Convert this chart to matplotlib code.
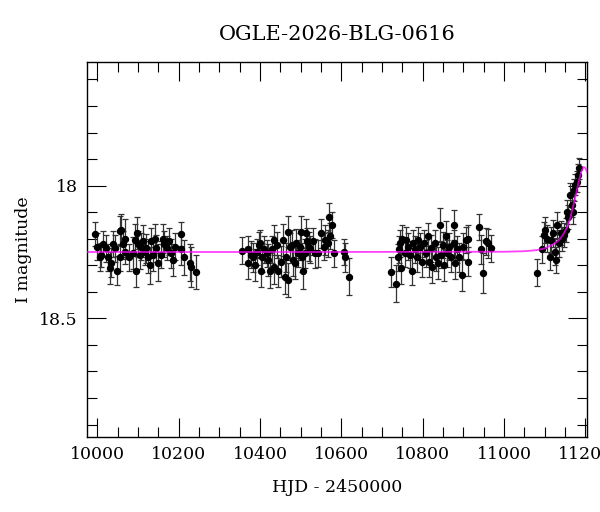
import numpy as np
import matplotlib
matplotlib.use('Agg')
import matplotlib.pyplot as plt
from matplotlib.ticker import MultipleLocator, FuncFormatter

# Light curve data (HJD - 2450000, I mag, error)
s1_hjd = [9995, 9999, 10005, 10009, 10014, 10022, 10026, 10030, 10034, 10038,
          10042, 10049, 10055, 10055, 10059, 10063, 10067, 10068, 10077, 10087,
          10092, 10095, 10098, 10100, 10104, 10108, 10112, 10116, 10120, 10124,
          10128, 10132, 10136, 10141, 10145, 10149, 10155, 10161, 10164, 10172,
          10175, 10180, 10186, 10191, 10205, 10206, 10214, 10227, 10229, 10243]
s1_mag = [18.183, 18.23, 18.27, 18.26, 18.22, 18.236, 18.27, 18.31, 18.29, 18.22,
          18.236, 18.32, 18.17, 18.27, 18.167, 18.22, 18.25, 18.20, 18.27, 18.255,
          18.205, 18.32, 18.18, 18.22, 18.26, 18.23, 18.21, 18.25, 18.236, 18.27,
          18.30, 18.21, 18.26, 18.20, 18.236, 18.29, 18.26, 18.20, 18.22, 18.236,
          18.21, 18.255, 18.28, 18.23, 18.183, 18.24, 18.27, 18.29, 18.305, 18.325]
s1_err = [0.045, 0.05, 0.05, 0.045, 0.05, 0.05, 0.05, 0.06, 0.055, 0.05,
          0.05, 0.055, 0.055, 0.05, 0.06, 0.05, 0.045, 0.075, 0.05, 0.06,
          0.06, 0.06, 0.06, 0.05, 0.055, 0.05, 0.06, 0.05, 0.055, 0.06,
          0.07, 0.05, 0.06, 0.055, 0.05, 0.07, 0.05, 0.055, 0.05, 0.045,
          0.05, 0.055, 0.06, 0.05, 0.045, 0.06, 0.065, 0.07, 0.075, 0.065]

s2_hjd = [10356, 10369, 10369, 10378, 10383, 10387, 10392, 10396, 10400, 10402,
          10405, 10410, 10416, 10420, 10424, 10430, 10435, 10435, 10441, 10445,
          10451, 10457, 10461, 10463, 10468, 10469, 10474, 10478, 10482, 10486,
          10488, 10492, 10498, 10501, 10502, 10506, 10510, 10512, 10515, 10519,
          10523, 10531, 10535, 10543, 10550, 10556, 10560, 10568, 10572, 10570,
          10576, 10582, 10605, 10609, 10619]
s2_mag = [18.245, 18.24, 18.29, 18.26, 18.27, 18.30, 18.25, 18.224, 18.217, 18.32,
          18.27, 18.24, 18.255, 18.28, 18.32, 18.24, 18.205, 18.305, 18.224, 18.32,
          18.286, 18.205, 18.343, 18.27, 18.173, 18.356, 18.23, 18.224, 18.28, 18.29,
          18.217, 18.255, 18.23, 18.173, 18.27, 18.32, 18.255, 18.18, 18.21, 18.23,
          18.24, 18.21, 18.255, 18.255, 18.18, 18.23, 18.205, 18.217, 18.19, 18.12,
          18.148, 18.255, 18.25, 18.27, 18.343]
s2_err = [0.05, 0.05, 0.06, 0.05, 0.055, 0.06, 0.05, 0.05, 0.05, 0.06,
          0.055, 0.05, 0.05, 0.06, 0.065, 0.05, 0.055, 0.065, 0.05, 0.06,
          0.06, 0.06, 0.065, 0.055, 0.06, 0.065, 0.05, 0.055, 0.06, 0.06,
          0.055, 0.05, 0.05, 0.06, 0.055, 0.07, 0.055, 0.055, 0.05, 0.055,
          0.05, 0.05, 0.055, 0.05, 0.055, 0.05, 0.055, 0.05, 0.05, 0.055,
          0.05, 0.05, 0.05, 0.055, 0.07]

s3_hjd = [10722, 10734, 10739, 10742, 10744, 10747, 10750, 10755, 10758, 10763,
          10769, 10773, 10777, 10781, 10785, 10789, 10793, 10797, 10804, 10807,
          10812, 10815, 10820, 10823, 10829, 10832, 10837, 10843, 10845, 10849,
          10853, 10857, 10859, 10865, 10870, 10876, 10876, 10880, 10884, 10888,
          10897, 10900, 10906, 10910, 10912, 10937, 10943, 10949, 10955, 10960,
          10968]
s3_mag = [18.325, 18.37, 18.27, 18.24, 18.217, 18.31, 18.20, 18.255, 18.205, 18.23,
          18.26, 18.32, 18.217, 18.24, 18.27, 18.205, 18.23, 18.286, 18.217, 18.255,
          18.19, 18.286, 18.236, 18.305, 18.217, 18.27, 18.29, 18.148, 18.26, 18.224,
          18.30, 18.19, 18.255, 18.23, 18.27, 18.148, 18.217, 18.29, 18.24, 18.27,
          18.337, 18.23, 18.205, 18.286, 18.20, 18.155, 18.24, 18.33, 18.21, 18.217,
          18.236]
s3_err = [0.055, 0.07, 0.05, 0.05, 0.05, 0.06, 0.05, 0.05, 0.05, 0.05,
          0.05, 0.055, 0.05, 0.05, 0.055, 0.05, 0.05, 0.06, 0.05, 0.05,
          0.05, 0.06, 0.05, 0.06, 0.05, 0.05, 0.06, 0.065, 0.05, 0.05,
          0.06, 0.055, 0.05, 0.05, 0.055, 0.055, 0.05, 0.06, 0.05, 0.055,
          0.06, 0.05, 0.05, 0.055, 0.05, 0.05, 0.055, 0.075, 0.05, 0.055,
          0.05]

s4_hjd = [11080, 11093, 11097, 11101, 11105, 11113, 11116, 11119, 11124, 11127,
          11130, 11134, 11140, 11143, 11148, 11152, 11154, 11158, 11162, 11166,
          11170, 11173, 11174, 11179, 11181, 11183]
s4_mag = [18.328, 18.24, 18.186, 18.167, 18.20, 18.267, 18.205, 18.18, 18.25, 18.28,
          18.148, 18.217, 18.18, 18.20, 18.186, 18.167, 18.098, 18.117, 18.035, 18.073,
          18.098, 18.016, 17.997, 17.985, 17.96, 17.934]
s4_err = [0.05, 0.05, 0.05, 0.05, 0.05, 0.05, 0.05, 0.05, 0.05, 0.05,
          0.05, 0.05, 0.045, 0.045, 0.045, 0.045, 0.045, 0.045, 0.045, 0.045,
          0.045, 0.04, 0.04, 0.04, 0.04, 0.04]

# Microlensing model
model_hjd = [9970, 10500, 11000, 11050, 11080, 11100, 11120, 11135, 11145, 11155,
             11163, 11170, 11177, 11184, 11190, 11195, 11199, 11204, 11210]
model_mag = [18.25, 18.25, 18.249, 18.247, 18.243, 18.236, 18.222, 18.205, 18.185, 18.155,
             18.12, 18.075, 18.03, 17.98, 17.945, 17.93, 17.932, 17.948, 17.97]

title = "OGLE-2026-BLG-0616"

hjd = np.concatenate([s1_hjd, s2_hjd, s3_hjd, s4_hjd])
mag = np.concatenate([s1_mag, s2_mag, s3_mag, s4_mag])
err = np.concatenate([s1_err, s2_err, s3_err, s4_err])

plt.rcParams['font.family'] = 'DejaVu Serif'
plt.rcParams['font.size'] = 12.5

fig = plt.figure(figsize=(6, 5.12), dpi=100)
ax = fig.add_axes([0.1455, 0.147, 0.833, 0.732])

ax.errorbar(hjd, mag, yerr=err, fmt='o', color='black', ecolor='0.2',
            ms=4.3, elinewidth=0.9, capsize=2.2, capthick=0.9, zorder=2)
ax.plot(model_hjd, model_mag, color='magenta', lw=1.3, alpha=0.75, zorder=3)

ax.set_xlim(9975, 11204)
ax.set_ylim(18.946, 17.534)

ax.xaxis.set_major_locator(MultipleLocator(200))
ax.xaxis.set_minor_locator(MultipleLocator(50))
ax.yaxis.set_major_locator(MultipleLocator(0.5))
ax.yaxis.set_minor_locator(MultipleLocator(0.1))
ax.yaxis.set_major_formatter(FuncFormatter(lambda v, p: '%g' % v))

ax.tick_params(which='both', direction='in', top=True, right=True, width=0.8)
ax.tick_params(which='major', length=13.5, pad=7)
ax.tick_params(which='minor', length=7)
for s in ax.spines.values():
    s.set_linewidth(1.0)

ax.set_title(title, pad=16)
ax.set_xlabel("HJD - 2450000", labelpad=11)
ax.set_ylabel("I magnitude", labelpad=5)

fig.savefig('out.png', dpi=100)
